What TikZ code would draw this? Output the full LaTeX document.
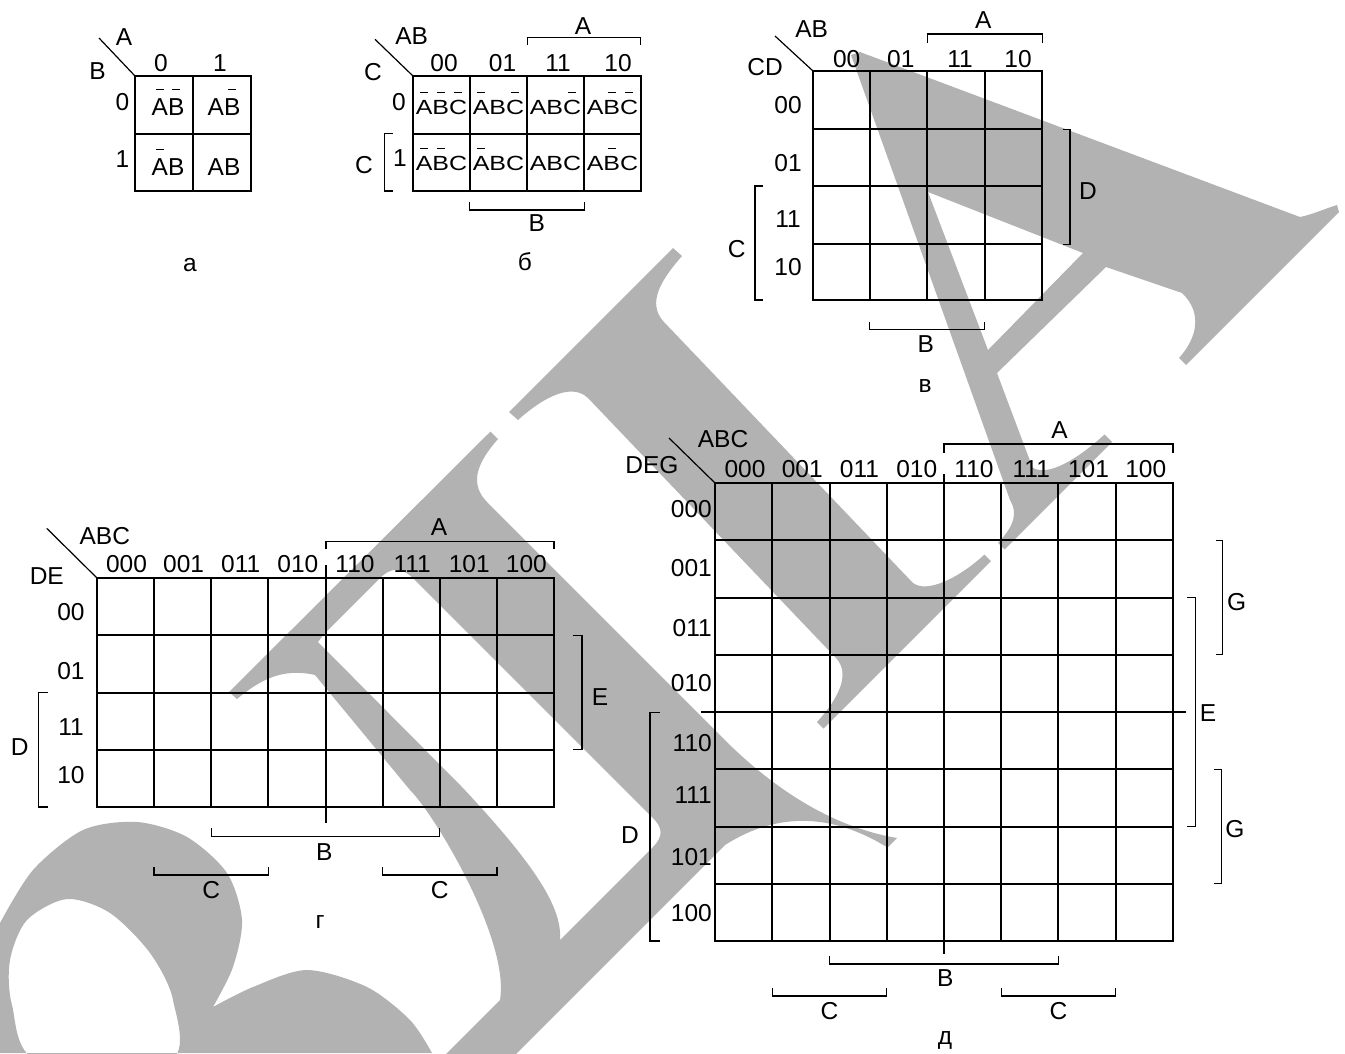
\documentclass[tikz,border=0pt]{standalone}
\usepackage{fontspec}
\setmainfont{Liberation Sans}
\newcommand\nb[1]{\setbox0\hbox{#1}\rlap{\hbox to\wd0{\hss\rule[25pt]{8pt}{1.3pt}\hss}}\box0}
\newcommand\nbs[1]{\setbox0\hbox{#1}\rlap{\hbox to\wd0{\hss\rule[21pt]{7pt}{1.3pt}\hss}}\box0}
\definecolor{wm}{gray}{0.70}
\begin{document}
\begin{tikzpicture}[x=1pt,y=-1pt,
  every node/.style={font=\fontsize{24.5}{29}\selectfont, inner sep=0pt},
  gl/.style={line width=1.8pt, line cap=rect},
  br/.style={line width=1.4pt},
  dg/.style={line width=1.2pt},
  cellb/.style={font=\fontsize{20.5}{24}\selectfont, anchor=base}]
\useasboundingbox (0,0) rectangle (1345,1053);
% ---------------- watermark ----------------
\fill[wm,even odd rule] (0,923) -- plot[smooth] coordinates {(0,923) (33,870) (83,830) (137,822) (187,837) (227,873) (242,920) (233,967) (213,1007)} -- plot[smooth] coordinates {(213,1007) (253,987) (307,970) (367,987) (410,1020) (432,1053)} -- (0,1053) -- cycle
  plot[smooth cycle] coordinates {(37,1060) (12,1005) (10,960) (27,920) (67,899) (110,913) (150,953) (173,1000) (170,1060)};
\begin{scope}[x={(0.5pt,0.5pt)}, y={(0.5pt,-0.5pt)}]
% letter A
\fill[wm,even odd rule] (796,906) -- (808,912) -- (1083,1517) .. controls (1098,1527) and (1115,1533) .. (1132,1542) -- (1127,1551) -- (821,1551) -- (821,1537) .. controls (860,1535) and (890,1515) .. (889,1475) -- (839,1373) -- (624,1370) -- (565,1500) .. controls (570,1525) and (620,1537) .. (670,1539) -- (670,1554) -- (455,1554) -- (455,1541) .. controls (490,1540) and (505,1530) .. (510,1510) -- cycle
  (736,1120) -- (830,1336) -- (638,1338) -- cycle;
% letter T
\fill[wm] (97,921) -- (425,921) -- (426,938) .. controls (380,941) and (344,950) .. (342,985) -- (330,1495) .. controls (332,1520) and (380,1537) .. (430,1539) -- (430,1552) -- (95,1552) -- (95,1539) .. controls (140,1537) and (176,1525) .. (178,1495) -- (190,985) .. controls (188,955) and (150,941) .. (98,938) -- cycle;
% letter D
\fill[wm,even odd rule] (-463,921) -- (59,922) -- (59,937) .. controls (10,940) and (-15,955) .. (-15,990) -- (-15,1480) .. controls (-12,1600) and (20,1680) .. (59,1735) -- (40,1735) .. controls (20,1650) and (-30,1590) .. (-120,1570) -- (-660,1570) -- (-660,1500) -- (-500,1500) .. controls (-430,1450) and (-380,1250) .. (-380,1200) -- (-360,990) .. controls (-385,950) and (-420,940) .. (-462,936) -- cycle
  (-324,960) -- (-325,1250) .. controls (-330,1400) and (-345,1470) .. (-380,1500) -- (-195,1500) .. controls (-172,1500) and (-165,1490) .. (-165,1470) -- (-165,995) .. controls (-165,968) and (-175,958) .. (-200,958) -- (-310,958) -- cycle;
\end{scope}
% ---------------- map a ----------------
\foreach \x in {135,193,251} \draw[gl] (\x,76) -- (\x,191);
\foreach \y in {76,134,191} \draw[gl] (135,\y) -- (251,\y);
\draw[dg] (99,38) -- (135,76);
\node (aA) at (124,37.5) {A};
\node (aB) at (97.5,71) {B};
\node (ac0) at (161,63.3) {0};
\node (ac1) at (220,63.3) {1};
\node (ar0) at (122.5,101.7) {0};
\node (ar1) at (122.5,159) {1};
\node[anchor=base] (a00) at (168,115) {\nb{A}\nb{B}};
\node[anchor=base] (a10) at (224,115) {A\nb{B}};
\node[anchor=base] (a01) at (168,175) {\nb{A}B};
\node[anchor=base] (a11) at (224,175) {AB};
\node (capa) at (190,265) {а};
% ---------------- map b ----------------
\foreach \x in {413,470,527,584,641} \draw[gl] (\x,76) -- (\x,191);
\foreach \y in {76,134,191} \draw[gl] (413,\y) -- (641,\y);
\draw[dg] (375,39.3) -- (413,76);
\node (bAB) at (411.7,35.8) {AB};
\node (bC) at (373,71.7) {C};
\node (bc0) at (444,63.3) {00};
\node (bc1) at (502.5,63.3) {01};
\node (bc2) at (558,63.3) {11};
\node (bc3) at (618,63.3) {10};
\node (br0) at (399,101.7) {0};
\node (br1) at (400,158) {1};
\node[cellb] (b00) at (441.5,114) {\scalebox{1.22}[1]{\nbs{A}\nbs{B}\nbs{C}}};
\node[cellb] (b01) at (498.5,114) {\scalebox{1.22}[1]{\nbs{A}B\nbs{C}}};
\node[cellb] (b02) at (555.5,114) {\scalebox{1.22}[1]{AB\nbs{C}}};
\node[cellb] (b03) at (612.5,114) {\scalebox{1.22}[1]{A\nbs{B}\nbs{C}}};
\node[cellb] (b10) at (441.5,170) {\scalebox{1.22}[1]{\nbs{A}\nbs{B}C}};
\node[cellb] (b11) at (498.5,170) {\scalebox{1.22}[1]{\nbs{A}BC}};
\node[cellb] (b12) at (555.5,170) {\scalebox{1.22}[1]{ABC}};
\node[cellb] (b13) at (612.5,170) {\scalebox{1.22}[1]{A\nbs{B}C}};
\draw[br] (527.7,45) -- (527.7,37.3) -- (640.7,37.3) -- (640.7,45);
\node (bA) at (583,25.8) {A};
\draw[br] (392.7,133.3) -- (384.3,133.3) -- (384.3,191) -- (392.7,191);
\node (bCl) at (364,165) {C};
\draw[br] (469.3,201.7) -- (469.3,210) -- (584.3,210) -- (584.3,201.7);
\node (bB) at (536.7,223.3) {B};
\node (capb) at (525,262) {б};
% ---------------- map v ----------------
\foreach \x in {813,870,927,985,1042} \draw[gl] (\x,71) -- (\x,300);
\foreach \y in {71,129,186,244,300} \draw[gl] (813,\y) -- (1042,\y);
\draw[dg] (775,36) -- (813,71);
\node (vAB) at (811.7,29) {AB};
\node (vCD) at (765,67.5) {CD};
\node (vc0) at (846.7,59) {00};
\node (vc1) at (900.8,59) {01};
\node (vc2) at (960,59) {11};
\node (vc3) at (1018,59) {10};
\node (vr0) at (788,105) {00};
\node (vr1) at (788,163) {01};
\node (vr2) at (788,219) {11};
\node (vr3) at (788,266.7) {10};
\draw[br] (927.7,42.7) -- (927.7,34) -- (1042.7,34) -- (1042.7,42.7);
\node (vA) at (983.3,20) {A};
\draw[br] (1063.3,129.3) -- (1070,129.3) -- (1070,244.3) -- (1063.3,244.3);
\node (vD) at (1088,191) {D};
\draw[br] (763,186) -- (755,186) -- (755,300) -- (763,300);
\node (vC) at (736.7,249) {C};
\draw[br] (869.3,321.7) -- (869.3,329.3) -- (984.3,329.3) -- (984.3,321.7);
\node (vB) at (925.8,344) {B};
\node (capv) at (925,386) {в};
% ---------------- map g ----------------
\foreach \x in {97,154,211,268,383,440,497,554} \draw[gl] (\x,578) -- (\x,807);
\draw[gl] (326,566) -- (326,822);
\foreach \y in {578,635,693,750,807} \draw[gl] (97,\y) -- (554,\y);
\draw[dg] (46.7,528.3) -- (97,578);
\node (gABC) at (104.8,535.8) {ABC};
\node (gDE) at (46.8,575.8) {DE};
\foreach \t [count=\i from 0] in {000,001,011,010,110,111,101,100}
  \node (gc\i) at ({97+57.125*\i+29.5},564) {\t};
\node (gr0) at (71,612.5) {00};
\node (gr1) at (71,670.8) {01};
\node (gr2) at (71,726.7) {11};
\node (gr3) at (71,775) {10};
\draw[br] (326,549.3) -- (326,541.7) -- (554,541.7) -- (554,549.3);
\node (gA) at (439,526.7) {A};
\draw[br] (573.3,635.2) -- (582,635.2) -- (582,749.6) -- (573.3,749.6);
\node (gE) at (600,697.5) {E};
\draw[br] (47.5,692.4) -- (38.4,692.4) -- (38.4,806.8) -- (47.5,806.8);
\node (gD) at (19.8,746.7) {D};
\draw[br] (211.25,828.3) -- (211.25,836.7) -- (439.75,836.7) -- (439.75,828.3);
\node (gB) at (324.2,851.7) {B};
\draw[br] (154.1,867.3) -- (154.1,875) -- (268.4,875) -- (268.4,867.3);
\node (gC1) at (211.25,890) {C};
\draw[br] (382.6,867.3) -- (382.6,875) -- (496.9,875) -- (496.9,867.3);
\node (gC2) at (439.75,890) {C};
\node (capg) at (320,921.7) {г};
% ---------------- map d ----------------
\foreach \x in {715,772,830,887,1001,1058,1116,1173} \draw[gl] (\x,483) -- (\x,941);
\draw[gl] (944,475) -- (944,953);
\foreach \y in {483,540,598,655,769,827,884,941} \draw[gl] (715,\y) -- (1173,\y);
\draw[gl] (702,712) -- (1185,712);
\draw[dg] (669,438) -- (715,483);
\node (dABC) at (723,439.3) {ABC};
\node (dDEG) at (652,465) {DEG};
\foreach \t [count=\i from 0] in {000,001,011,010,110,111,101,100}
  \node (dc\i) at ({715+57.25*\i+30},469) {\t};
\foreach \t/\y [count=\i from 0] in {000/509.3,001/568.3,011/628.3,010/683.3,110/742.7,111/795,101/856.7,100/913.3}
  \node[anchor=east] (dr\i) at (712,\y) {\t};
\draw[br] (944,452.7) -- (944,444) -- (1173,444) -- (1173,452.7);
\node (dA) at (1059.6,430) {A};
\draw[br] (1216,540.25) -- (1222.7,540.25) -- (1222.7,654.75) -- (1216,654.75);
\node (dG1) at (1236.7,601.7) {G};
\draw[br] (1187,597.5) -- (1195.7,597.5) -- (1195.7,826.5) -- (1187,826.5);
\node (dE) at (1208,713.3) {E};
\draw[br] (1214.3,769.25) -- (1221.7,769.25) -- (1221.7,883.75) -- (1214.3,883.75);
\node (dG2) at (1235,829.3) {G};
\draw[br] (659.6,712.3) -- (650,712.3) -- (650,941) -- (659.6,941);
\node (dD) at (630,835) {D};
\draw[br] (829.5,955.7) -- (829.5,964) -- (1058.5,964) -- (1058.5,955.7);
\node (dB) at (945.4,978.3) {B};
\draw[br] (772.25,987.7) -- (772.25,996) -- (886.75,996) -- (886.75,987.7);
\node (dC1) at (829.5,1010.8) {C};
\draw[br] (1001.25,987.7) -- (1001.25,996) -- (1115.75,996) -- (1115.75,987.7);
\node (dC2) at (1058.5,1010.8) {C};
\node (capd) at (945,1040) {д};
\end{tikzpicture}
\end{document}
